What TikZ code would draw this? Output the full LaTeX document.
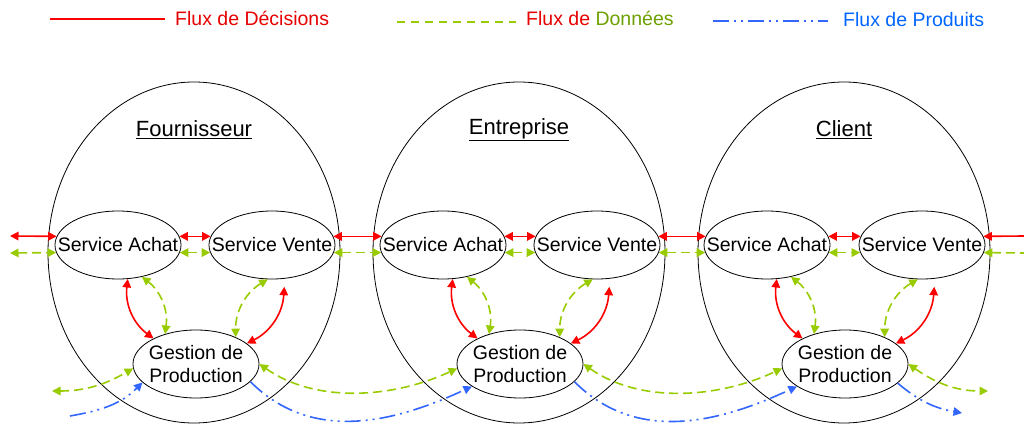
\documentclass[tikz,border=0pt]{standalone}
\usepackage{fontspec}
\setmainfont{Liberation Sans}
\usetikzlibrary{arrows.meta, calc, shapes.geometric}
\definecolor{rouge}{RGB}{255,0,0}
\definecolor{rougetexte}{RGB}{230,0,0}
\definecolor{vert}{RGB}{153,204,0}
\definecolor{verttexte}{RGB}{110,160,0}
\definecolor{bleu}{RGB}{51,102,255}
\definecolor{bleutexte}{RGB}{0,102,255}

\begin{document}
\begin{tikzpicture}[x=1pt, y=1pt,
  >={Triangle[length=8.5pt,width=8.5pt]},
  acteur/.style={draw, ellipse, line width=0.8pt, minimum width=292pt, minimum height=341pt, inner sep=0pt},
  service/.style={draw, ellipse, line width=0.8pt, minimum width=126pt, minimum height=68pt,
    inner xsep=-16pt, inner ysep=-6pt, align=center, font=\fontsize{19.5}{23}\selectfont},
  titre/.style={font=\fontsize{22}{26}\selectfont},
  legende/.style={anchor=west, inner sep=0pt, font=\fontsize{19.5}{23}\selectfont},
  decision/.style={draw=rouge, line width=1.6pt},
  donnee/.style={draw=vert, line width=1.6pt, dash pattern=on 9pt off 5pt},
  produit/.style={draw=bleu, line width=1.6pt, dash pattern=on 16pt off 5pt on 2pt off 5pt on 2pt off 5pt}]
\useasboundingbox (0,0) rectangle (1024,423);

% legende
\draw[decision] (50,404) -- (165,404);
\node[legende, text=rougetexte] (lD) at (175,405) {Flux de Décisions};
\draw[donnee, dash pattern=on 8pt off 6pt] (397,401) -- (516,401);
\node[legende, text=rougetexte] (lO) at (526,405) {Flux de \textcolor{verttexte}{Données}};
\draw[produit] (713,402) -- (828,402);
\node[legende, text=bleutexte] (lP) at (843,403) {Flux de Produits};

% acteurs
\node[acteur] (F) at (194,170.5) {};
\node[acteur] (E) at (519,170.5) {};
\node[acteur] (C) at (844,170.5) {};
\node[titre] (tF) at (194,293) {\underline{Fournisseur}};
\node[titre] (tE) at (519,293) {\underline{Entreprise}};
\node[titre] (tC) at (844,293) {\underline{Client}};

% services
\node[service] (aF) at (118,178) {Service Achat};
\node[service] (vF) at (272,178) {Service Vente};
\node[service] (gF) at (196,59) {Gestion de\\Production};
\node[service] (aE) at (443,178) {Service Achat};
\node[service] (vE) at (597,178) {Service Vente};
\node[service] (gE) at (520,59) {Gestion de\\Production};
\node[service] (aC) at (767,178) {Service Achat};
\node[service] (vC) at (922,178) {Service Vente};
\node[service] (gC) at (845,59) {Gestion de\\Production};

% extremites libres
\coordinate (dG) at (10,187);
\coordinate (dD) at (1024,187);
\coordinate (oG) at (10,170);
\coordinate (oD) at (1024,170);
\coordinate (gG) at (52,32);
\coordinate (gD) at (988,32);
\coordinate (pG) at (70,7);
\coordinate (pD) at (962,10);

% decisions entre services
\draw[decision,<->] (dG) -- (aF.172);
\draw[decision,<->] (aF.8) -- (vF.172);
\draw[decision,<->] (vF.8) -- (aE.172);
\draw[decision,<->] (aE.8) -- (vE.172);
\draw[decision,<->] (vE.8) -- (aC.172);
\draw[decision,<->] (aC.8) -- (vC.172);
\draw[decision,<-] (vC.8) -- (dD);

% donnees entre services
\draw[donnee,<->] (oG) -- (aF.187);
\draw[donnee,<->] (aF.-7) -- (vF.187);
\draw[donnee,<->] (vF.-7) -- (aE.187);
\draw[donnee,<->] (aE.-7) -- (vE.187);
\draw[donnee,<->] (vE.-7) -- (aC.187);
\draw[donnee,<->] (aC.-7) -- (vC.187);
\draw[donnee,<-] (vC.-7) -- (oD);

% vers la production
\draw[decision,<->] (aF.-74) to[bend right=30] (gF.149);
\draw[donnee,<->] (aF.-53) to[bend left=30] (gF.136);
\draw[donnee,<->] (vF.-97) to[bend right=30] (gF.34);
\draw[decision,<->] ([yshift=-8pt]vF.-70) to[bend left=30] (gF.22);
\draw[decision,<->] (aE.-74) to[bend right=30] (gE.149);
\draw[donnee,<->] (aE.-53) to[bend left=30] (gE.136);
\draw[donnee,<->] (vE.-97) to[bend right=30] (gE.34);
\draw[decision,<->] ([yshift=-8pt]vE.-70) to[bend left=30] (gE.22);
\draw[decision,<->] (aC.-74) to[bend right=30] (gC.149);
\draw[donnee,<->] (aC.-53) to[bend left=30] (gC.136);
\draw[donnee,<->] (vC.-97) to[bend right=30] (gC.34);
\draw[decision,<->] ([yshift=-8pt]vC.-70) to[bend left=30] (gC.22);

% donnees entre productions
\draw[donnee,<->] (gG) to[out=0,in=210] (gF.184);
\draw[donnee,<->] (gF.0) to[out=-35,in=205,looseness=0.9] (gE.184);
\draw[donnee,<->] (gE.0) to[out=-35,in=205,looseness=0.9] (gC.184);
\draw[donnee,<->] (gC.0) to[out=-35,in=180] (gD);

% produits
\draw[produit,->] (pG) to[out=10,in=225] (gF.199);
\draw[produit,->] (gF.-18) to[out=-45,in=205] (gE.205);
\draw[produit,->] (gE.-18) to[out=-45,in=205] (gC.205);
\draw[produit,->] (gC.-20) to[out=-40,in=170] (pD);
\end{tikzpicture}
\end{document}
